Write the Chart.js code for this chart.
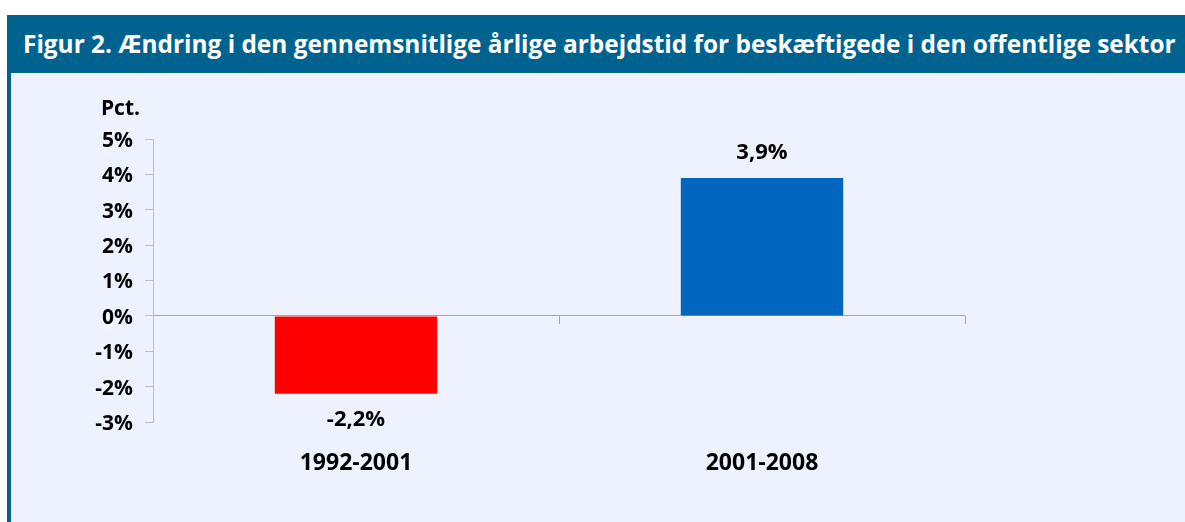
<!DOCTYPE html>
<html>
<head>
<meta charset="utf-8">
<script src="https://cdn.jsdelivr.net/npm/chart.js@4"></script>
<style>
    html, body { margin: 0; padding: 0; background: #ffffff; }
    body { width: 1185px; height: 522px; overflow: hidden; position: relative; }
    .frame {
        position: absolute; left: 7px; top: 15px; right: 0; bottom: 0;
        background: #eef2fe; border-left: 4px solid #00628f;
    }
    .title {
        height: 58px; background: #00628f; color: #ffffff;
        font-family: "Open Sans", sans-serif; font-weight: 700; font-size: 24.4px;
        line-height: 58px; margin-left: -4px; padding-left: 16px; white-space: nowrap;
    }
    .chart-box { position: absolute; left: 0; top: 58px; width: 1174px; height: 449px; }
</style>
</head>
<body>
<div class="frame">
    <div class="title">Figur 2. Ændring i den gennemsnitlige årlige arbejdstid for beskæftigede i den offentlige sektor</div>
    <div class="chart-box"><canvas id="chart" width="1174" height="449"></canvas></div>
</div>
<script>
    // Data
    const periods = ['1992-2001', '2001-2008'];
    const changes = [-2.2, 3.9];
    const barColors = ['#ff0000', '#0066c0'];
    const yMin = -3;
    const yMax = 5;
    const unitLabel = 'Pct.';

    const fontFamily = '"Open Sans", sans-serif';

    function fmt(v) {
        return v.toFixed(1).replace('.', ',') + '%';
    }

    // Value labels, unit label and category tick marks on the zero line
    const extrasPlugin = {
        id: 'extras',
        afterDatasetsDraw(chart) {
            const ctx = chart.ctx;
            const xScale = chart.scales.x;
            const yScale = chart.scales.y;
            const zeroY = yScale.getPixelForValue(0);
            ctx.save();

            // tick marks between categories
            ctx.strokeStyle = '#a6a6a6';
            ctx.lineWidth = 1;
            for (let i = 1; i <= periods.length; i++) {
                const x = Math.round(xScale.getPixelForValue(i - 0.5)) + 0.5;
                ctx.beginPath();
                ctx.moveTo(x, zeroY);
                ctx.lineTo(x, zeroY + 8);
                ctx.stroke();
            }

            // value labels
            ctx.fillStyle = '#000000';
            ctx.font = 'bold 22px ' + fontFamily;
            ctx.textAlign = 'center';
            ctx.textBaseline = 'middle';
            const meta = chart.getDatasetMeta(0);
            meta.data.forEach((bar, i) => {
                const v = changes[i];
                const y = v >= 0 ? bar.y - 25 : bar.y + 26;
                ctx.fillText(fmt(v), bar.x, y);
            });

            // unit label
            ctx.font = 'bold 21px ' + fontFamily;
            ctx.textAlign = 'right';
            ctx.fillText(unitLabel, yScale.right - 13, chart.chartArea.top - 30);
            ctx.restore();
        }
    };

    new Chart(document.getElementById('chart'), {
        type: 'bar',
        data: {
            labels: periods,
            datasets: [{
                data: changes,
                backgroundColor: barColors,
                borderWidth: 0,
                categoryPercentage: 0.8,
                barPercentage: 0.5
            }]
        },
        options: {
            responsive: false,
            animation: false,
            layout: { padding: { left: 82, right: 220, top: 66, bottom: 40 } },
            plugins: {
                legend: { display: false },
                tooltip: { enabled: false }
            },
            scales: {
                x: {
                    grid: { display: false, drawTicks: false },
                    border: { display: false },
                    ticks: { color: '#000000', font: { family: fontFamily, size: 23, weight: 'bold' }, padding: 28 },
                    afterFit(scale) { scale.height = 60; }
                },
                y: {
                    min: yMin,
                    max: yMax,
                    grid: {
                        drawOnChartArea: true,
                        color: ctx => ctx.tick && ctx.tick.value === 0 ? '#a6a6a6' : 'rgba(0,0,0,0)',
                        tickColor: '#bfbfbf',
                        tickLength: 8
                    },
                    border: { color: '#bfbfbf' },
                    ticks: {
                        stepSize: 1,
                        color: '#000000',
                        font: { family: fontFamily, size: 21, weight: 'bold' },
                        padding: 12,
                        labelOffset: 2,
                        callback: v => v + '%'
                    },
                    afterFit(scale) { scale.width = 60; }
                }
            }
        },
        plugins: [extrasPlugin]
    });
</script>
</body>
</html>
